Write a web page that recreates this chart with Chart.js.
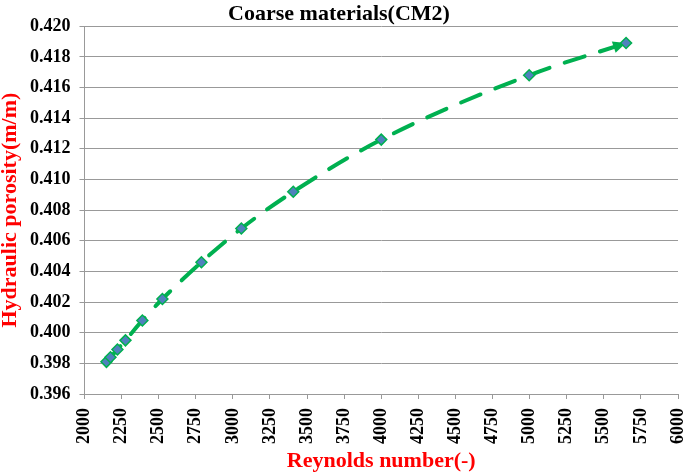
<!DOCTYPE html>
<html>
<head>
<meta charset="utf-8">
<script src="https://cdn.jsdelivr.net/npm/chart.js@4/dist/chart.umd.min.js"></script>
<style>
html,body{margin:0;padding:0;background:#fff;}
#wrap{width:685px;height:472px;position:relative;}
</style>
</head>
<body>
<div id="wrap"><canvas id="c"></canvas></div>
<script>
const reynolds = [2148, 2175, 2222, 2276, 2390, 2525, 2788, 3057, 3407, 4000, 4997, 5650];
const porosity = [0.3981, 0.3984, 0.3989, 0.3995, 0.4008, 0.4022, 0.4046, 0.4068, 0.4092, 0.4126, 0.4168, 0.4189];
const chartTitle = 'Coarse materials(CM2)';
const xTitle = 'Reynolds number(-)';
const yTitle = 'Hydraulic porosity(m/m)';

const points = reynolds.map((x, i) => ({x: x, y: porosity[i]}));
const GREEN = '#00B050';
const FONT = '"Liberation Serif", "Times New Roman", serif';

const arrowPlugin = {
  id: 'arrowHead',
  beforeDatasetsDraw(chart) {
    const meta = chart.getDatasetMeta(0);
    const pts = meta.data;
    if (pts.length < 2) return;
    const last = pts[pts.length - 1];
    const prev = pts[pts.length - 2];
    let fx = (last.cp1x !== undefined) ? last.cp1x : prev.x;
    let fy = (last.cp1y !== undefined) ? last.cp1y : prev.y;
    const ang = Math.atan2(last.y - fy, last.x - fx);
    const ctx = chart.ctx;
    const L = 13, W = 6;
    ctx.save();
    ctx.translate(last.x, last.y);
    ctx.rotate(ang);
    ctx.beginPath();
    ctx.moveTo(0, 0);
    ctx.lineTo(-L, -W);
    ctx.lineTo(-L, W);
    ctx.closePath();
    ctx.fillStyle = GREEN;
    ctx.fill();
    ctx.restore();
  }
};

new Chart(document.getElementById('c'), {
  type: 'scatter',
  data: {
    datasets: [{
      data: points,
      showLine: true,
      borderColor: GREEN,
      borderWidth: 4,
      borderDash: [21, 16],
      borderCapStyle: 'round',
      cubicInterpolationMode: 'monotone',
      pointStyle: 'rectRot',
      pointRadius: 5.5,
      pointBackgroundColor: '#4F81BD',
      pointBorderColor: GREEN,
      pointBorderWidth: 1.5
    }]
  },
  options: {
    responsive: true,
    maintainAspectRatio: false,
    animation: false,
    layout: {padding: {left: -1, right: 6, top: 0, bottom: 0}},
    plugins: {
      legend: {display: false},
      tooltip: {enabled: false},
      title: {
        display: true,
        text: chartTitle,
        color: '#000',
        font: {family: FONT, size: 22, weight: 'bold', lineHeight: 1.1},
        padding: {top: 2, bottom: 0}
      }
    },
    scales: {
      x: {
        type: 'linear',
        min: 2000,
        max: 6000,
        afterFit: (scale) => { scale.paddingRight = 0; scale.paddingLeft = 0; scale.height -= 5; },
        ticks: {
          stepSize: 250,
          minRotation: 90,
          maxRotation: 90,
          color: '#000',
          font: {family: FONT, size: 18, weight: 'bold', lineHeight: 1.0},
          padding: 9,
          autoSkip: false,
          callback: v => String(v)
        },
        grid: {display: true, drawOnChartArea: false, drawTicks: true, tickLength: 5, color: '#999999'},
        border: {display: true, color: '#999999', width: 1},
        title: {
          display: true,
          text: xTitle,
          color: '#FF0000',
          font: {family: FONT, size: 22, weight: 'bold', lineHeight: 1.0},
          padding: {top: 2, bottom: 0}
        }
      },
      y: {
        type: 'linear',
        min: 0.396,
        max: 0.420,
        ticks: {
          stepSize: 0.002,
          color: '#000',
          font: {family: FONT, size: 18, weight: 'bold'},
          padding: 9,
          callback: v => v.toFixed(3)
        },
        grid: {display: true, drawOnChartArea: true, drawTicks: true, tickLength: 5, color: '#999999'},
        border: {display: true, color: '#999999', width: 1},
        title: {
          display: true,
          text: yTitle,
          color: '#FF0000',
          font: {family: FONT, size: 22, weight: 'bold', lineHeight: 1.0},
          padding: {top: 0, bottom: 0}
        }
      }
    }
  },
  plugins: [arrowPlugin]
});
</script>
</body>
</html>
